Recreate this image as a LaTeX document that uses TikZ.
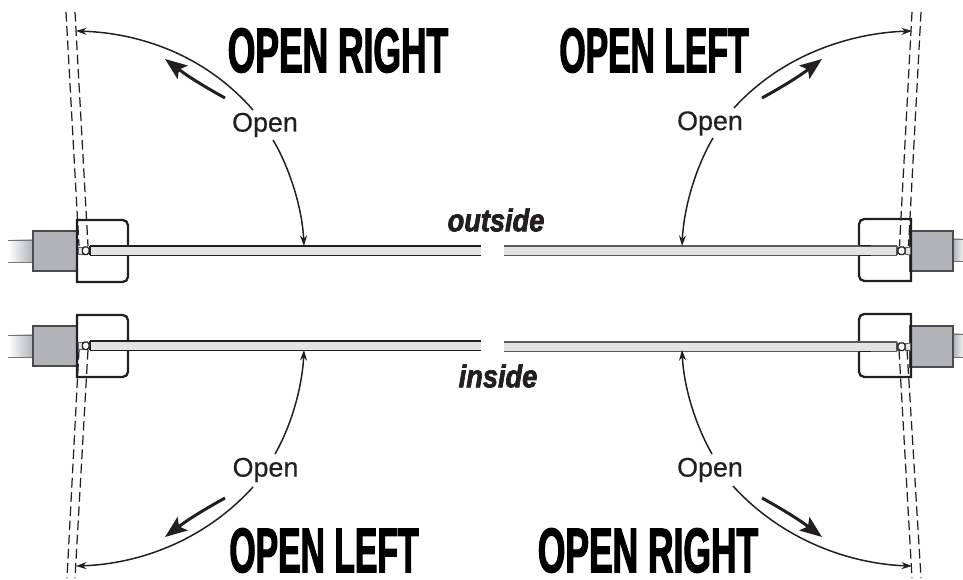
\documentclass[tikz,border=0pt]{standalone}
\usepackage{fontspec}
\setmainfont{Liberation Sans}
\newfontfamily\headfont[FakeStretch=0.56,FakeBold=1.7]{Liberation Sans Bold}
\newfontfamily\leftfont[FakeStretch=0.533,FakeBold=1.7]{Liberation Sans Bold}
\newfontfamily\sidefont[FakeStretch=0.86,FakeBold=2.2]{Liberation Sans Bold Italic}
\newfontfamily\openfont[FakeBold=0.4]{Liberation Sans}
\usetikzlibrary{arrows.meta}
\definecolor{inkdark}{HTML}{231F20}
\definecolor{blockgray}{HTML}{B1B3B6}
\definecolor{glassgray}{HTML}{E1E3E4}
\tikzset{
  headlabel/.style={inner sep=0pt,text=black,font=\headfont\fontsize{36}{36}\selectfont},
  leftlabel/.style={inner sep=0pt,text=black,font=\leftfont\fontsize{36}{36}\selectfont},
  sidelabel/.style={inner sep=0pt,text=inkdark,font=\sidefont\fontsize{18}{18}\selectfont},
  openlabel/.style={inner sep=0pt,text=inkdark,font=\openfont\fontsize{15.3}{16}\selectfont},
  swingline/.style={draw=inkdark,line width=0.85pt},
  swingtip/.style={swingline,-{Stealth[length=6pt,width=4pt]}},
  movearrow/.style={draw=inkdark,line width=1.7pt,-{Stealth[length=12.5pt,width=9.5pt,inset=2.5pt]}},
  limitline/.style={draw=inkdark,line width=0.7pt,dash pattern=on 5.5pt off 2.6pt},
  postbox/.style={draw=inkdark,line width=1.3pt},
  postblock/.style={draw=black!70,line width=0.8pt,fill=blockgray},
  glassbar/.style={fill=glassgray},
}
\begin{document}
\begin{tikzpicture}[x=0.02cm,y=-0.02cm]
\useasboundingbox (0,0) rectangle (963,580);
% left posts
\foreach \dy in {0,95} {
  \shade[left color=white,right color=blockgray] (8,240+\dy) rectangle (33,262+\dy);
  \draw[black!55,line width=0.5pt] (8,240+\dy) -- (33,240+\dy) (8,262+\dy) -- (33,262+\dy);
  \draw[postblock] (33,231+\dy) rectangle (77,271+\dy);
  \draw[postbox] (77,220+\dy) [rounded corners=3pt] -- (128,220+\dy) -- (128,282+\dy) [sharp corners] -- (77,282+\dy) -- cycle;
  \fill[glassbar] (90,246+\dy) rectangle (481,255.5+\dy);
  \draw[inkdark,line width=0.7pt] (90,246+\dy) -- (481,246+\dy) (90,255.5+\dy) -- (481,255.5+\dy) (90,246+\dy) -- (90,255.5+\dy);
  \fill[glassgray,draw=black!60,line width=0.4pt] (78,247+\dy) rectangle (83,254.5+\dy);
  \draw[inkdark,fill=white,line width=0.8pt,rounded corners=1pt] (82.5,247+\dy) rectangle (89,254.5+\dy);
}
\draw[inkdark,line width=1.1pt] (116,245.5) -- (128,245.5) (116,255.5) -- (128,255.5);
\draw[inkdark,line width=1.1pt] (116,350.5) -- (128,350.5);
% right posts
\foreach \dy/\dz in {0/0,96/95} {
  \shade[left color=blockgray,right color=white!80!blockgray] (953,239+\dz) rectangle (963,261+\dy);
  \draw[black!55,line width=0.5pt] (953,239+\dz) -- (963,239+\dz) (953,261+\dy) -- (963,261+\dy);
  \draw[postblock] (910,231+\dz) rectangle (953,271+\dy);
  \draw[postbox] (911,219+\dz) [rounded corners=3pt] -- (859,219+\dz) -- (859,281+\dy) [sharp corners] -- (911,281+\dy) -- cycle;
  \fill[glassbar] (504,246+\dy) rectangle (897,255.5+\dy);
  \draw[black!65,line width=0.8pt] (504,246+\dy) -- (897,246+\dy) (504,255.5+\dy) -- (897,255.5+\dy) (897,246+\dy) -- (897,255.5+\dy);
  \fill[glassgray,draw=black!60,line width=0.4pt] (905,247+\dy) rectangle (910,254.5+\dy);
  \draw[inkdark,fill=white,line width=0.8pt,rounded corners=1pt] (898,247+\dy) rectangle (905,254.5+\dy);
}
\draw[inkdark,line width=1.1pt] (859,245.5) -- (871,245.5) (859,255.5) -- (871,255.5);
\draw[inkdark,line width=1.1pt] (859,351.5) -- (871,351.5);
% door limits
\draw[limitline] (66,12) -- (79,246);
\draw[limitline] (75,12) -- (88,246);
\draw[limitline] (912,12) -- (899.5,246);
\draw[limitline] (921,12) -- (908.5,246);
\draw[limitline] (79,350) -- (67,578);
\draw[limitline] (88,350) -- (75,578);
\draw[limitline] (899,350) -- (912,578);
\draw[limitline] (907,350) -- (921,578);
% labels
\node[headlabel] (headTL) at (338,50.5) {OPEN RIGHT};
\node[leftlabel] (headTR) at (654,50.5) {OPEN LEFT};
\node[leftlabel] (headBL) at (324,550.5) {OPEN LEFT};
\node[headlabel] (headBR) at (648,550.5) {OPEN RIGHT};
\node[sidelabel] (outside) at (496,220) {outside};
\node[sidelabel] (inside) at (498,376) {inside};
\node[openlabel] (openTL) at (265,125) {Open};
\node[openlabel] (openTR) at (710,123.5) {Open};
\node[openlabel] (openBL) at (265.5,470) {Open};
\node[openlabel] (openBR) at (710,470) {Open};
% swing ends
\coordinate (limitTL) at (76,31);
\coordinate (limitTR) at (912,31);
\coordinate (limitBL) at (76,566);
\coordinate (limitBR) at (912,566);
\coordinate (barTL) at (304,246);
\coordinate (barTR) at (682,246);
\coordinate (barBL) at (304,350);
\coordinate (barBR) at (682,350);
\coordinate (upTL) at (253,110);
\coordinate (dnTL) at (273,140);
\coordinate (upTR) at (734,108);
\coordinate (dnTR) at (713,138);
\coordinate (upBL) at (275,454);
\coordinate (dnBL) at (253,487);
\coordinate (upBR) at (712,454);
\coordinate (dnBR) at (733,486);
% swings
\draw[swingtip] (upTL) .. controls (205,55) and (140,33) .. (limitTL);
\draw[swingtip] (dnTL) .. controls (288,165) and (302,205) .. (barTL);
\draw[swingtip] (upTR) .. controls (782,55) and (850,33) .. (limitTR);
\draw[swingtip] (dnTR) .. controls (697,165) and (684,205) .. (barTR);
\draw[swingtip] (dnBL) .. controls (205,540) and (140,564) .. (limitBL);
\draw[swingtip] (upBL) .. controls (290,428) and (302,390) .. (barBL);
\draw[swingtip] (dnBR) .. controls (782,540) and (850,564) .. (limitBR);
\draw[swingtip] (upBR) .. controls (697,428) and (684,390) .. (barBR);
% movement arrows
\coordinate (moveTLa) at (225,98);
\coordinate (moveTLb) at (165,59);
\coordinate (moveTRa) at (762,98);
\coordinate (moveTRb) at (822,59);
\coordinate (moveBLa) at (225,498);
\coordinate (moveBLb) at (165,537);
\coordinate (moveBRa) at (762,498);
\coordinate (moveBRb) at (822,537);
\draw[movearrow] (moveTLa) to[bend left=4] (moveTLb);
\draw[movearrow] (moveTRa) to[bend right=4] (moveTRb);
\draw[movearrow] (moveBLa) to[bend right=4] (moveBLb);
\draw[movearrow] (moveBRa) to[bend left=4] (moveBRb);
\end{tikzpicture}
\end{document}
